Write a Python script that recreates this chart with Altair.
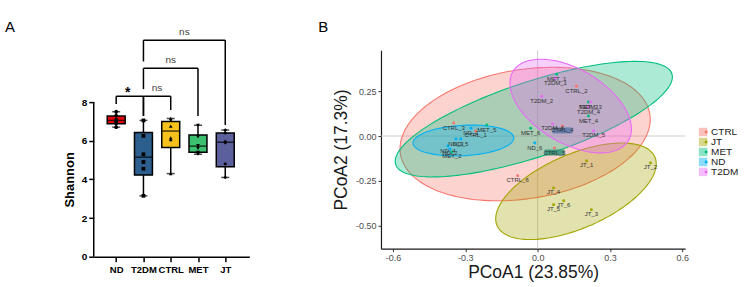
import altair as alt
import numpy as np
import pandas as pd

FONT = "Liberation Sans"

# ---------------- Panel A: Shannon diversity ----------------
groups_a = ["ND", "T2DM", "CTRL", "MET", "JT"]
colors_a = ["#e8060c", "#2d5f8e", "#f8c21c", "#3dbf70", "#5b5f9c"]
shapes_a = ["circle", "square", "triangle-up", "triangle-down", "diamond"]

box_min = [6.70, 3.15, 4.30, 5.30, 4.10]
box_q1 = [6.88, 4.22, 5.65, 5.40, 4.65]
box_med = [7.05, 5.15, 6.50, 5.72, 5.92]
box_q3 = [7.28, 6.43, 7.00, 6.30, 6.40]
box_max = [7.50, 7.05, 7.15, 6.80, 6.55]

pts_nd = [7.50, 7.30, 7.10, 7.00, 6.90, 6.70]
pts_t2dm = [7.05, 6.25, 5.30, 4.90, 4.55, 3.15]
pts_ctrl = [7.15, 7.05, 6.75, 6.15, 6.05, 4.30]
pts_met = [6.80, 6.20, 5.75, 5.60, 5.40, 5.35, 5.30]
pts_jt = [6.55, 6.40, 5.95, 5.90, 4.80, 4.10]

y_ticks_a = [0, 2, 4, 6, 8]

br_from = ["ND", "T2DM", "T2DM", "T2DM"]
br_to = ["T2DM", "CTRL", "MET", "JT"]
br_top = [8.30, 8.30, 9.75, 11.20]
br_from_end = [7.90, 7.28, 8.67, 10.10]
br_to_end = [7.28, 7.59, 7.28, 6.81]
br_text = ["*", "ns", "ns", "ns"]

# ---------------- Panel B: PCoA ----------------
samples = ["CTRL_1", "CTRL_2", "CTRL_3", "CTRL_4", "CTRL_5", "CTRL_6",
           "JT_1", "JT_2", "JT_3", "JT_4", "JT_5", "JT_6",
           "MET_1", "MET_2", "MET_3", "MET_4", "MET_5", "MET_6",
           "ND_1", "ND_2", "ND_3", "ND_4", "ND_5", "ND_6",
           "T2DM_1", "T2DM_2", "T2DM_3", "T2DM_4", "T2DM_5", "T2DM_6"]
pc1 = [-0.257, 0.161, -0.348, 0.103, 0.070, -0.083,
       0.203, 0.468, 0.223, 0.066, 0.066, 0.108,
       0.079, -0.356, 0.211, 0.211, -0.211, -0.029,
       -0.277, -0.364, -0.339, -0.372, -0.319, -0.012,
       0.074, 0.017, 0.219, 0.211, 0.232, 0.062]
pc2 = [0.028, 0.278, 0.072, 0.056, -0.067, -0.222,
       -0.139, -0.150, -0.411, -0.289, -0.383, -0.361,
       0.344, -0.089, 0.189, 0.111, 0.061, 0.044,
       0.044, -0.072, -0.017, -0.056, -0.017, -0.039,
       0.322, 0.222, 0.189, 0.161, 0.028, 0.067]

groups_b = ["CTRL", "JT", "MET", "ND", "T2DM"]
colors_b = ["#F8766D", "#A3A500", "#00BF7D", "#00B0F6", "#E76BF3"]
# 95% ellipses: centre, half-extent in x / y, tilt (corr.)
ell_cx = [-0.052, 0.159, -0.016, -0.308, 0.137]
ell_cy = [0.011, -0.308, 0.094, -0.025, 0.167]
ell_rx = [0.519, 0.333, 0.575, 0.209, 0.252]
ell_ry = [0.372, 0.269, 0.322, 0.086, 0.261]
ell_r = [0.22, 0.57, 0.73, 0.16, -0.49]

hl_samples = ["CTRL_4", "CTRL_5"]
hl_colors = ["#5a78a8", "#2e8f78"]

x_ticks_b = [-0.6, -0.3, 0.0, 0.3, 0.6]
y_ticks_b = [-0.5, -0.25, 0.0, 0.25]

# ================= build panel A =================
idx = {g: i for i, g in enumerate(groups_a)}
box_df = pd.DataFrame({"group": groups_a, "idx": list(range(len(groups_a))),
                       "lo": box_min, "q1": box_q1, "med": box_med,
                       "q3": box_q3, "hi": box_max})
pts_rows = []
for g, vals in zip(groups_a, [pts_nd, pts_t2dm, pts_ctrl, pts_met, pts_jt]):
    for v in vals:
        pts_rows.append({"group": g, "idx": idx[g], "val": v})
pts_df = pd.DataFrame(pts_rows)

brh_df = pd.DataFrame({"a": [idx[g] for g in br_from], "b": [idx[g] for g in br_to],
                       "top": br_top, "text": br_text})
brh_df["mid"] = (brh_df["a"] + brh_df["b"]) / 2
legs = []
for f, t, top, fe, te in zip(br_from, br_to, br_top, br_from_end, br_to_end):
    legs.append({"idx": idx[f], "end": fe, "top": top})
    legs.append({"idx": idx[t], "end": te, "top": top})
brv_df = pd.DataFrame(legs)

label_expr = "[" + ",".join("'%s'" % g for g in groups_a) + "][datum.value]"
ax_ax = alt.Axis(values=list(range(len(groups_a))), labelExpr=label_expr, title=None,
                 grid=False, domainColor="black", domainWidth=1.5, tickColor="black",
                 tickWidth=1.5, tickSize=5, labelFont=FONT, labelFontSize=9.5,
                 labelFontWeight="bold", labelColor="black", labelPadding=3)
ax_ay = alt.Axis(values=y_ticks_a, title=None, grid=False, domain=False,
                 tickColor="black", tickWidth=1.5, tickSize=5, labelFont=FONT,
                 labelFontSize=10, labelFontWeight="bold", labelColor="black",
                 labelPadding=2)
sx_a = alt.Scale(domain=[-0.64, 4.70], nice=False, zero=False)
sy_a = alt.Scale(domain=[0, 10.68], nice=False, zero=False)


def XA(f):
    return alt.X(f + ":Q", scale=sx_a, axis=ax_ax)


def YA(f):
    return alt.Y(f + ":Q", scale=sy_a, axis=ax_ay)


whisk = alt.Chart(box_df).mark_rule(color="black", strokeWidth=1.5).encode(
    x=XA("idx"), y=YA("lo"), y2="hi:Q")
boxes = alt.Chart(box_df).mark_bar(size=18, stroke="black", strokeWidth=1.5).encode(
    x=XA("idx"), y=YA("q1"), y2="q3:Q",
    color=alt.Color("group:N", scale=alt.Scale(domain=groups_a, range=colors_a), legend=None))
med = alt.Chart(box_df).mark_tick(orient="horizontal", size=18, thickness=1.5, color="black").encode(
    x=XA("idx"), y=YA("med"))
cap_lo = alt.Chart(box_df).mark_tick(orient="horizontal", size=8, thickness=1.5, color="black").encode(
    x=XA("idx"), y=YA("lo"))
cap_hi = alt.Chart(box_df).mark_tick(orient="horizontal", size=8, thickness=1.5, color="black").encode(
    x=XA("idx"), y=YA("hi"))
pts = alt.Chart(pts_df).mark_point(filled=True, color="black", size=14, opacity=1).encode(
    x=XA("idx"), y=YA("val"),
    shape=alt.Shape("group:N", scale=alt.Scale(domain=groups_a, range=shapes_a), legend=None))
yline_df = pd.DataFrame({"y0": [min(y_ticks_a)], "y1": [max(y_ticks_a)]})
yline = alt.Chart(yline_df).mark_rule(color="black", strokeWidth=1.5).encode(
    x=alt.value(0), y=YA("y0"), y2="y1:Q")
brh = alt.Chart(brh_df).mark_rule(color="black", strokeWidth=1.5).encode(
    x=XA("a"), x2="b:Q", y=YA("top"))
brv = alt.Chart(brv_df).mark_rule(color="black", strokeWidth=1.5).encode(
    x=XA("idx"), y=YA("end"), y2="top:Q")
ns_txt = alt.Chart(brh_df).transform_filter(alt.datum.text == "ns").mark_text(
    font=FONT, fontSize=10, color="#444444", baseline="alphabetic", dy=-5).encode(
    x=XA("mid"), y=YA("top"), text="text:N")
star_txt = alt.Chart(brh_df).transform_filter(alt.datum.text == "*").mark_text(
    font=FONT, fontSize=14, fontWeight="bold", color="black", baseline="alphabetic", dy=1,
    dx=-2).encode(x=XA("mid"), y=YA("top"), text="text:N")
a_lab = alt.Chart(pd.DataFrame({"t": ["A"]})).mark_text(
    font=FONT, fontSize=15, align="left", baseline="middle", color="black").encode(
    x=alt.value(-89), y=alt.value(-23), text="t:N")
shannon = alt.Chart(pd.DataFrame({"t": ["Shannon"]})).mark_text(
    font=FONT, fontSize=13, fontWeight="bold", angle=270, baseline="middle", color="black").encode(
    x=alt.value(-24), y=alt.value(130), text="t:N")

panel_a = alt.layer(whisk, boxes, med, cap_lo, cap_hi, pts, yline, brh, brv,
                    ns_txt, star_txt, a_lab, shannon).properties(width=156, height=207)

# ================= build panel B =================
pts_b = pd.DataFrame({"sample": samples, "pc1": pc1, "pc2": pc2})
pts_b["group"] = pts_b["sample"].str.split("_").str[0]

ell_rows = []
tt = np.linspace(0, np.pi, 90)
for g, cx, cy, rx, ry, r in zip(groups_b, ell_cx, ell_cy, ell_rx, ell_ry, ell_r):
    s = np.sqrt(1 - r * r)
    for t in tt:
        ell_rows.append({"group": g, "ex": cx + rx * np.cos(t),
                         "yu": cy + ry * (r * np.cos(t) + s * np.sin(t)),
                         "yl": cy + ry * (r * np.cos(t) - s * np.sin(t))})
ell_df = pd.DataFrame(ell_rows)

ax_bx = alt.Axis(values=x_ticks_b, labelExpr="replace(format(datum.value, '.1f'), '\u2212', '-')",
                 title="PCoA1 (23.85%)", grid=False, domainColor="#1a1a1a", domainWidth=1.2,
                 tickColor="#333333", tickSize=3, labelFont=FONT, labelFontSize=9,
                 labelColor="#4d4d4d", labelPadding=2, titleFont=FONT, titleFontSize=17.5,
                 titleFontWeight="normal", titleColor="#1a1a1a", titlePadding=1)
ax_by = alt.Axis(values=y_ticks_b, labelExpr="replace(format(datum.value, '.2f'), '\u2212', '-')",
                 title="PCoA2 (17.3%)", grid=False, domainColor="#1a1a1a", domainWidth=1.2,
                 tickColor="#333333", tickSize=3, labelFont=FONT, labelFontSize=9,
                 labelColor="#4d4d4d", labelPadding=2, titleFont=FONT, titleFontSize=17.5,
                 titleFontWeight="normal", titleColor="#1a1a1a", titlePadding=5)
sx_b = alt.Scale(domain=[-0.65, 0.612], nice=False, zero=False)
sy_b = alt.Scale(domain=[-0.628, 0.478], nice=False, zero=False)


def XB(f):
    return alt.X(f + ":Q", scale=sx_b, axis=ax_bx)


def YB(f):
    return alt.Y(f + ":Q", scale=sy_b, axis=ax_by)


zero_df = pd.DataFrame({"z": [0.0]})
vzero = alt.Chart(zero_df).mark_rule(color="#c8c8c8", strokeWidth=0.9).encode(x=XB("z"))
hzero = alt.Chart(zero_df).mark_rule(color="#c8c8c8", strokeWidth=0.9).encode(y=YB("z"))

ellipses = alt.Chart(ell_df).mark_area(fillOpacity=0.32, strokeWidth=1.1, strokeOpacity=1).encode(
    x=XB("ex"), y=YB("yu"), y2="yl:Q",
    fill=alt.Fill("group:N", scale=alt.Scale(domain=groups_b, range=colors_b),
                  legend=alt.Legend(title=None, orient="none", legendX=318, legendY=77,
                                    symbolType="square", symbolSize=72, symbolOpacity=0.45,
                                    symbolStrokeWidth=0, labelFont=FONT, labelFontSize=10,
                                    labelColor="#1a1a1a", labelOffset=3, rowPadding=0)),
    stroke=alt.Stroke("group:N", scale=alt.Scale(domain=groups_b, range=colors_b), legend=None),
    detail="group:N")
hl_layers = []
for s_name, s_col in zip(hl_samples, hl_colors):
    hl_layers.append(
        alt.Chart(pts_b).transform_filter(alt.datum.sample == s_name).mark_point(
            shape="M-1,-0.3H1V0.3H-1Z", filled=True, size=400, opacity=0.85,
            yOffset=4.5, color=s_col).encode(x=XB("pc1"), y=YB("pc2")))
dots = alt.Chart(pts_b).mark_circle(size=9, opacity=1).encode(
    x=XB("pc1"), y=YB("pc2"),
    color=alt.Color("group:N", scale=alt.Scale(range=colors_b),
                    legend=alt.Legend(title=None, orient="none", legendX=318, legendY=77,
                                      symbolType="circle", symbolSize=9, symbolOffset=3,
                                      labelExpr="''", labelFont=FONT, labelFontSize=10,
                                      labelOffset=3, rowPadding=0)))
labels = alt.Chart(pts_b).mark_text(font=FONT, fontSize=6, color="#333333", dy=4.5).encode(
    x=XB("pc1"), y=YB("pc2"), text="sample:N")
b_lab = alt.Chart(pd.DataFrame({"t": ["B"]})).mark_text(
    font=FONT, fontSize=15, align="left", baseline="middle", color="black").encode(
    x=alt.value(-63), y=alt.value(-23), text="t:N")

panel_b = alt.layer(vzero, hzero, ellipses, dots, *hl_layers, labels, b_lab).properties(
    width=305, height=199)

chart = alt.hconcat(panel_a, panel_b, spacing=132, bounds="flush").resolve_scale(
    color="independent", fill="independent", stroke="independent", shape="independent"
).resolve_legend(
    color="independent", fill="independent", stroke="independent", shape="independent"
).properties(
    padding={"left": 5, "top": 20, "right": 5, "bottom": 5}
).configure_view(stroke=None)

chart.save("out.html", embed_options={"renderer": "svg", "actions": False})
